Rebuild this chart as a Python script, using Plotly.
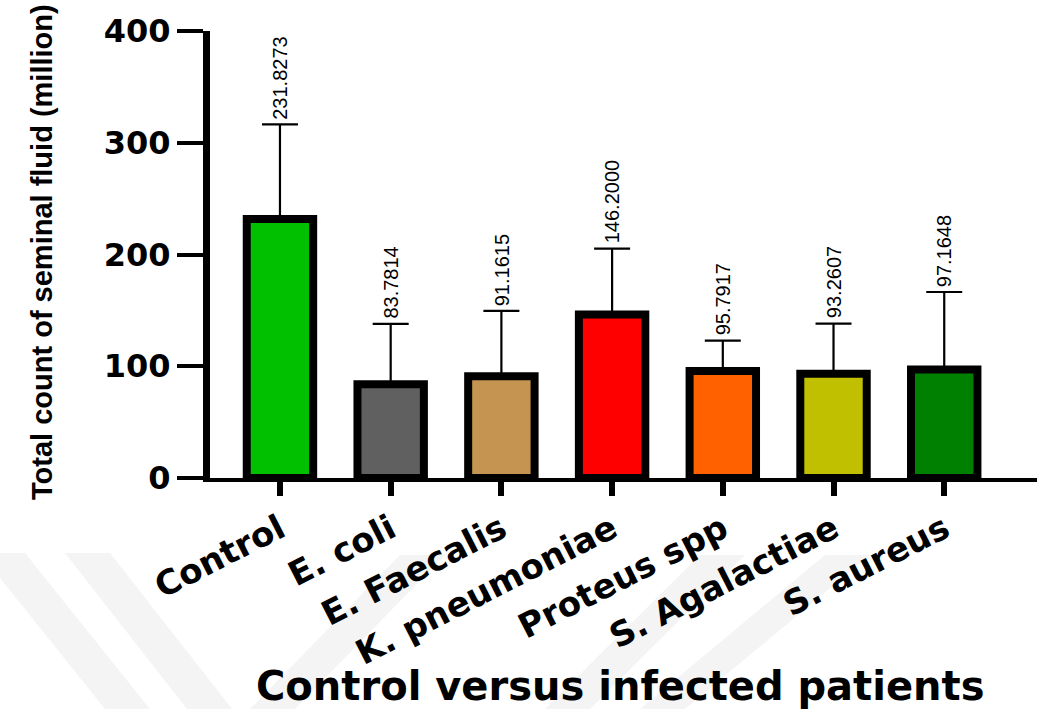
import plotly.graph_objects as go

# Groups and their mean total count (million) with the upper standard deviation
groups = ["Control", "E. coli", "E. Faecalis", "K. pneumoniae",
          "Proteus spp", "S. Agalactiae", "S. aureus"]
means = [231.8273, 83.7814, 91.1615, 146.2000, 95.7917, 93.2607, 97.1648]
sd_upper = [84.7, 54.1, 58.4, 59.0, 27.2, 44.9, 69.3]
bar_colors = ["#00C000", "#606060", "#C49450", "#FF0000",
              "#FF6000", "#C0C000", "#008000"]
y_ticks = [0, 100, 200, 300, 400]

W, H = 1039, 709
M_L, M_R, M_T, M_B = 210, 2, 31, 231

fig = go.Figure()
fig.add_trace(go.Bar(
    x=groups,
    y=means,
    width=0.6,
    marker=dict(color=bar_colors, line=dict(color="black", width=8)),
    error_y=dict(type="data", symmetric=False, array=sd_upper,
                 arrayminus=[0] * len(means), color="black",
                 thickness=2.2, width=18),
    showlegend=False,
    hoverinfo="skip",
))

# value labels above each error cap
for g, m, s in zip(groups, means, sd_upper):
    fig.add_annotation(
        x=g, y=m + s, text=f"{m:.4f}", showarrow=False,
        textangle=-90, yanchor="bottom", xanchor="center", yshift=3,
        font=dict(family="Liberation Sans, Arial", size=20, color="black"),
    )

# axis titles
pw = W - M_L - M_R
ph = H - M_T - M_B
def paper(px, py):
    return (px - M_L) / pw, (H - M_B - py) / ph

tx, ty = paper(42, 252)
fig.add_annotation(
    xref="paper", yref="paper", x=tx, y=ty, text="<b>Total count of seminal fluid (million)</b>",
    showarrow=False, textangle=-90, xanchor="center", yanchor="middle",
    font=dict(family="Liberation Sans, Arial", size=29, color="black"),
)
tx, ty = paper(620, 686)
fig.add_annotation(
    xref="paper", yref="paper", x=tx, y=ty, text="<b>Control versus infected patients</b>",
    showarrow=False, xanchor="center", yanchor="middle",
    font=dict(family="DejaVu Sans", size=40, color="black"),
)

# faint chevron watermark in the lower background
bands = [
    [(-20, 553), (25, 553), (150, 709), (105, 709)],
    [(65, 553), (110, 553), (232, 709), (187, 709)],
    [(250, 709), (295, 709), (445, 555), (400, 555)],
    [(545, 709), (590, 709), (745, 555), (700, 555)],
    [(640, 709), (685, 709), (870, 555), (825, 555)],
]
for poly in bands:
    pts = [paper(px, py) for px, py in poly]
    path = "M " + " L ".join(f"{a:.4f},{b:.4f}" for a, b in pts) + " Z"
    fig.add_shape(type="path", xref="paper", yref="paper", path=path,
                  fillcolor="#f4f4f4", line=dict(width=0), layer="below")

fig.update_layout(
    width=W, height=H,
    margin=dict(l=M_L, r=M_R, t=M_T, b=M_B),
    paper_bgcolor="white", plot_bgcolor="rgba(0,0,0,0)",
    bargap=0.4,
)
fig.update_xaxes(
    type="category", range=[-0.632, 6.838],
    showline=True, linecolor="black", linewidth=4,
    ticks="outside", ticklen=14, tickwidth=6, tickcolor="black",
    tickangle=-27, showgrid=False, zeroline=False,
    tickfont=dict(family="DejaVu Sans", size=34, color="black", weight="bold"),
)
fig.update_yaxes(
    range=[0, 400], tickvals=y_ticks, ticktext=[str(v) for v in y_ticks],
    showline=True, linecolor="black", linewidth=7,
    ticks="outside", ticklen=26, tickwidth=4, tickcolor="black",
    ticklabelstandoff=0, showgrid=False, zeroline=False,
    tickfont=dict(family="DejaVu Sans", size=32, color="black", weight="bold"),
)

fig.write_html("out.html")
